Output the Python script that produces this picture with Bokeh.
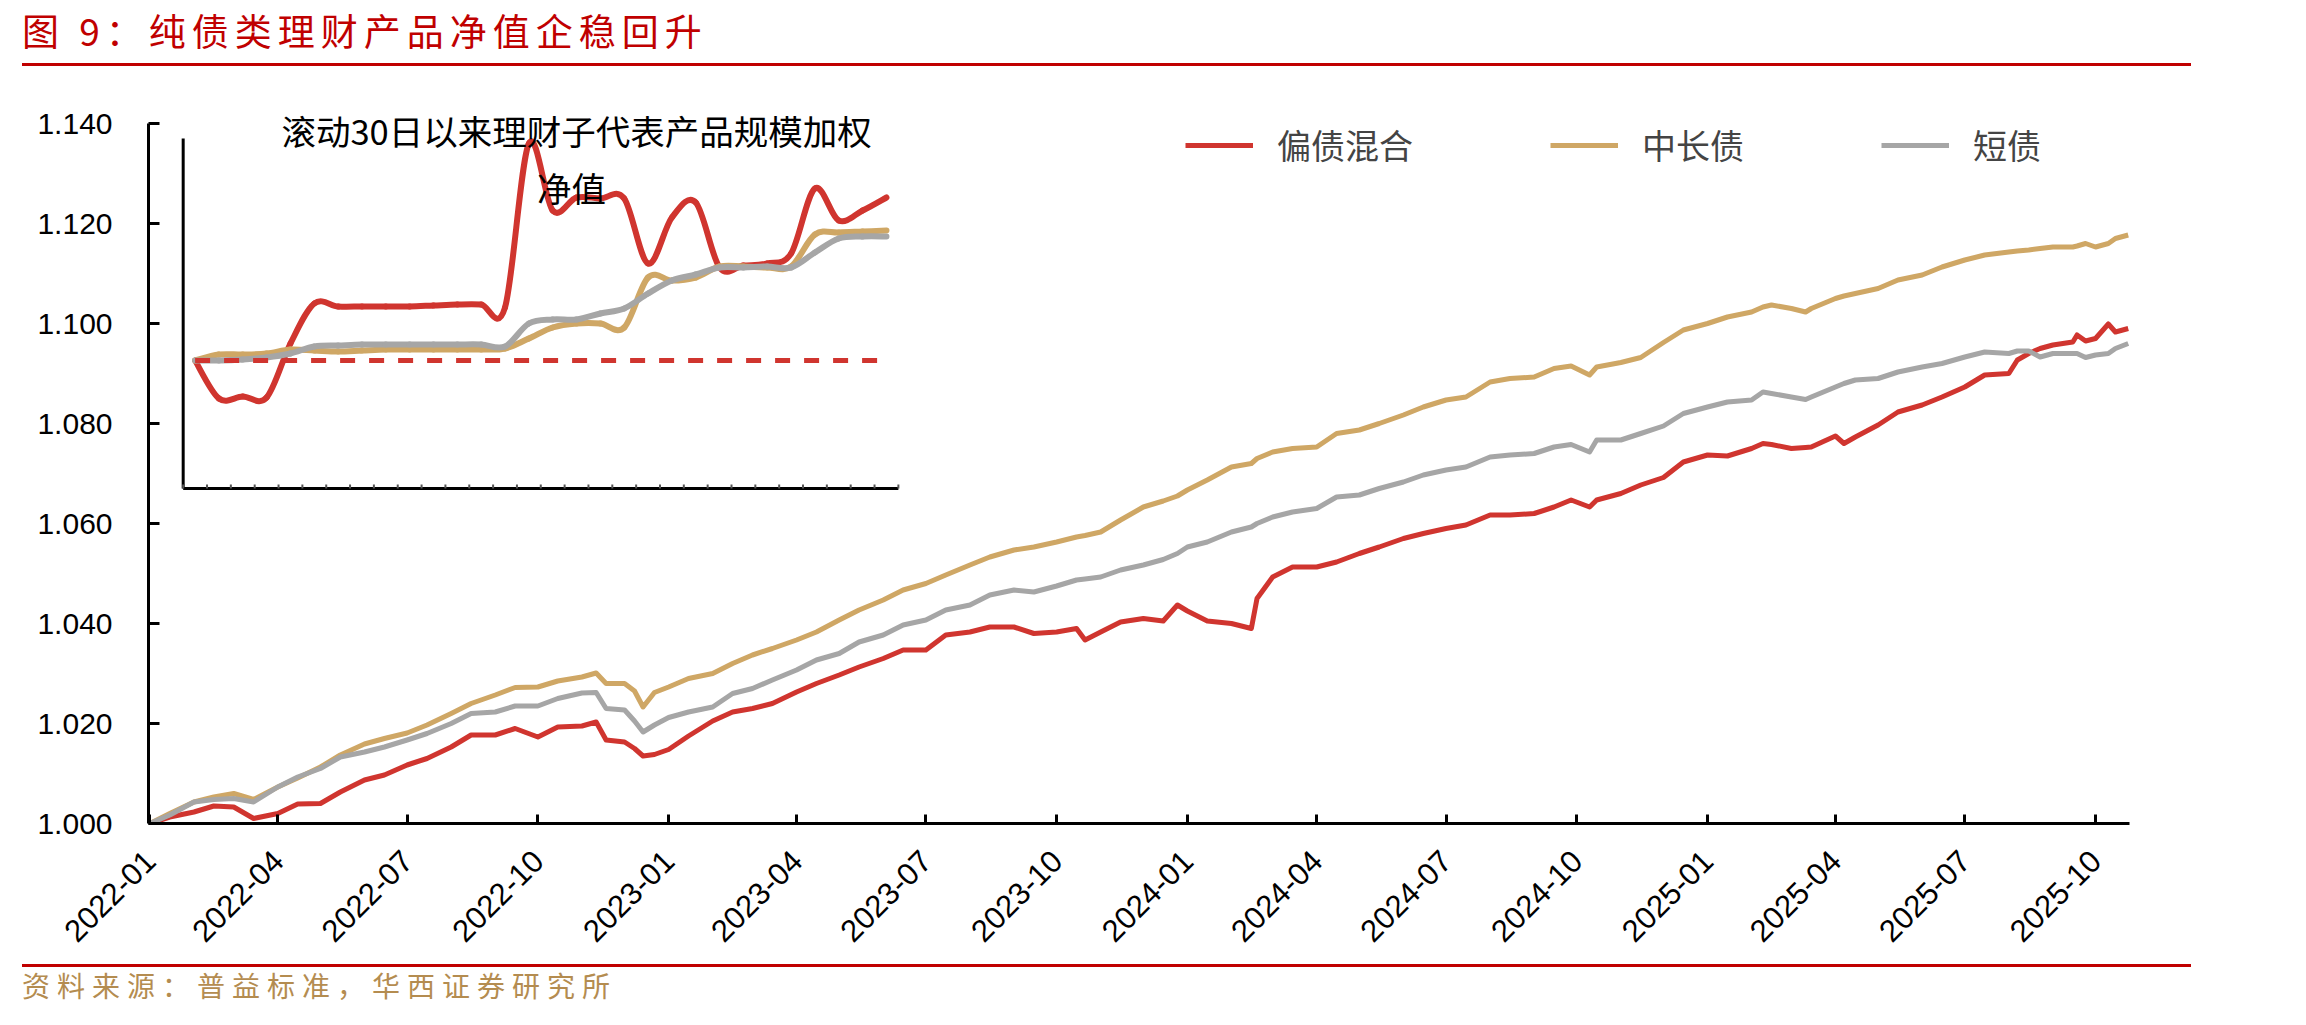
import math
import pandas as pd
from bokeh.plotting import figure
from bokeh.models import (Range1d, FixedTicker, DatetimeTickFormatter, PrintfTickFormatter,
                          Legend, LegendItem, Label, Div, ColumnDataSource)
from bokeh.layouts import column
from bokeh.embed import file_html
from bokeh.resources import INLINE

# ---------------- data ----------------
dates = [
    "2022-01-01", "2022-01-15", "2022-02-01", "2022-02-15", "2022-03-01", "2022-03-15", "2022-04-01",
    "2022-04-15", "2022-05-01", "2022-05-15", "2022-06-01", "2022-06-15", "2022-07-01", "2022-07-15",
    "2022-08-01", "2022-08-15", "2022-09-01", "2022-09-15", "2022-10-01", "2022-10-15", "2022-11-01",
    "2022-11-11", "2022-11-18", "2022-12-01", "2022-12-08", "2022-12-14", "2022-12-22",
    "2023-01-01", "2023-01-15", "2023-02-01", "2023-02-15", "2023-03-01", "2023-03-15", "2023-04-01",
    "2023-04-15", "2023-05-01", "2023-05-15", "2023-06-01", "2023-06-15", "2023-07-01", "2023-07-15",
    "2023-08-01", "2023-08-15", "2023-09-01", "2023-09-15", "2023-10-01", "2023-10-15", "2023-10-21",
    "2023-11-01", "2023-11-15", "2023-12-01", "2023-12-15", "2023-12-25",
    "2024-01-01", "2024-01-15", "2024-02-01", "2024-02-15", "2024-02-19", "2024-03-01", "2024-03-15",
    "2024-04-01", "2024-04-15", "2024-05-01", "2024-05-15", "2024-06-01", "2024-06-15", "2024-07-01",
    "2024-07-15", "2024-08-01", "2024-08-15", "2024-09-01", "2024-09-15", "2024-09-27", "2024-10-10",
    "2024-10-15", "2024-11-01", "2024-11-15", "2024-12-01", "2024-12-15",
    "2025-01-01", "2025-01-15", "2025-02-01", "2025-02-09", "2025-02-15", "2025-03-01", "2025-03-11",
    "2025-03-15", "2025-04-01", "2025-04-07", "2025-04-15", "2025-05-01", "2025-05-15", "2025-06-01",
    "2025-06-15", "2025-07-01", "2025-07-15", "2025-08-01", "2025-08-07", "2025-08-15", "2025-08-23",
    "2025-09-01", "2025-09-15", "2025-09-18", "2025-09-24", "2025-10-01", "2025-10-10", "2025-10-15",
    "2025-10-24",
]

# 偏债混合
nav_mixed = [
    1.0000, 1.0013, 1.0023, 1.0035, 1.0033, 1.0010, 1.0020, 1.0039, 1.0040, 1.0063, 1.0087, 1.0097,
    1.0117, 1.0130, 1.0153, 1.0177, 1.0177, 1.0190, 1.0173, 1.0193, 1.0195, 1.0203, 1.0167, 1.0163,
    1.0150, 1.0135, 1.0138,
    1.0148, 1.0175, 1.0205, 1.0223, 1.0230, 1.0240, 1.0263, 1.0280, 1.0297, 1.0313, 1.0330, 1.0347,
    1.0347, 1.0377, 1.0383, 1.0393, 1.0393, 1.0380, 1.0383, 1.0390, 1.0367, 1.0383, 1.0403, 1.0410,
    1.0405, 1.0437,
    1.0425, 1.0405, 1.0400, 1.0390, 1.0450, 1.0493, 1.0513, 1.0513, 1.0523, 1.0540, 1.0553, 1.0570,
    1.0580, 1.0590, 1.0597, 1.0617, 1.0617, 1.0620, 1.0633, 1.0647, 1.0633, 1.0647, 1.0660, 1.0677,
    1.0692, 1.0723,
    1.0737, 1.0735, 1.0750, 1.0760, 1.0758, 1.0750, 1.0752, 1.0753, 1.0775, 1.0760, 1.0773, 1.0797,
    1.0823, 1.0837, 1.0853, 1.0873, 1.0897, 1.0900, 1.0927, 1.0940, 1.0950, 1.0957, 1.0963, 1.0977,
    1.0965, 1.0970, 1.0999, 1.0983, 1.0990,
]

# 中长债
nav_long = [
    1.0000, 1.0020, 1.0043, 1.0053, 1.0060, 1.0048, 1.0073, 1.0091, 1.0113, 1.0137, 1.0159, 1.0170,
    1.0181, 1.0197, 1.0220, 1.0240, 1.0257, 1.0272, 1.0273, 1.0285, 1.0293, 1.0301, 1.0280, 1.0280,
    1.0265, 1.0233, 1.0262,
    1.0273, 1.0290, 1.0300, 1.0320, 1.0337, 1.0350, 1.0367, 1.0383, 1.0407, 1.0427, 1.0447, 1.0467,
    1.0480, 1.0497, 1.0517, 1.0533, 1.0547, 1.0553, 1.0563, 1.0573, 1.0576, 1.0583, 1.0607, 1.0633,
    1.0645, 1.0655,
    1.0667, 1.0687, 1.0713, 1.0720, 1.0730, 1.0743, 1.0750, 1.0753, 1.0780, 1.0787, 1.0800, 1.0817,
    1.0833, 1.0847, 1.0853, 1.0883, 1.0890, 1.0893, 1.0910, 1.0915, 1.0897, 1.0913, 1.0922, 1.0932,
    1.0962, 1.0987,
    1.1000, 1.1013, 1.1023, 1.1033, 1.1037, 1.1030, 1.1023, 1.1030, 1.1050, 1.1055, 1.1060, 1.1070,
    1.1087, 1.1097, 1.1113, 1.1127, 1.1137, 1.1143, 1.1145, 1.1147, 1.1150, 1.1153, 1.1153, 1.1155,
    1.1160, 1.1153, 1.1160, 1.1170, 1.1177,
]

# 短债
nav_short = [
    1.0000, 1.0017, 1.0043, 1.0048, 1.0050, 1.0043, 1.0073, 1.0093, 1.0110, 1.0133, 1.0143, 1.0153,
    1.0167, 1.0180, 1.0200, 1.0220, 1.0223, 1.0235, 1.0235, 1.0250, 1.0261, 1.0262, 1.0230, 1.0227,
    1.0205, 1.0183, 1.0197,
    1.0212, 1.0223, 1.0233, 1.0260, 1.0270, 1.0287, 1.0307, 1.0327, 1.0340, 1.0363, 1.0377, 1.0397,
    1.0407, 1.0427, 1.0437, 1.0457, 1.0467, 1.0463, 1.0475, 1.0487, 1.0489, 1.0493, 1.0507, 1.0517,
    1.0528, 1.0540,
    1.0553, 1.0563, 1.0583, 1.0593, 1.0600, 1.0613, 1.0623, 1.0630, 1.0653, 1.0657, 1.0670, 1.0683,
    1.0697, 1.0707, 1.0713, 1.0733, 1.0737, 1.0740, 1.0753, 1.0758, 1.0743, 1.0767, 1.0767, 1.0780,
    1.0795, 1.0820,
    1.0833, 1.0843, 1.0847, 1.0863, 1.0860, 1.0853, 1.0848, 1.0853, 1.0873, 1.0880, 1.0887, 1.0890,
    1.0903, 1.0913, 1.0920, 1.0933, 1.0943, 1.0940, 1.0945, 1.0945, 1.0933, 1.0940, 1.0940, 1.0940,
    1.0932, 1.0937, 1.0940, 1.0950, 1.0960,
]

# rolling 30-day window, scale-weighted NAV (start of window = 1)
inset_mixed = [1.00000, 0.99962, 0.99964, 0.99963, 1.00017, 1.00057, 1.00054, 1.00054, 1.00054, 1.00054,
               1.00055, 1.00056, 1.00056, 1.00053, 1.00217, 1.00150, 1.00163, 1.00162, 1.00162, 1.00097,
               1.00143, 1.00158, 1.00093, 1.00095, 1.00097, 1.00107, 1.00172, 1.00140, 1.00150, 1.00163]
inset_long = [1.00000, 1.00006, 1.00006, 1.00007, 1.00011, 1.00010, 1.00009, 1.00010, 1.00011, 1.00011,
              1.00011, 1.00011, 1.00011, 1.00012, 1.00022, 1.00033, 1.00037, 1.00037, 1.00033, 1.00083,
              1.00080, 1.00083, 1.00094, 1.00094, 1.00093, 1.00094, 1.00126, 1.00128, 1.00129, 1.00130]
inset_short = [1.00000, 1.00000, 1.00001, 1.00003, 1.00007, 1.00014, 1.00015, 1.00016, 1.00016, 1.00016,
               1.00016, 1.00016, 1.00016, 1.00014, 1.00037, 1.00041, 1.00041, 1.00047, 1.00052, 1.00067,
               1.00080, 1.00086, 1.00093, 1.00093, 1.00094, 1.00093, 1.00108, 1.00122, 1.00124, 1.00124]
inset_base = 1.0

series_names = ["偏债混合", "中长债", "短债"]
x_ticks = ["2022-01-01", "2022-04-01", "2022-07-01", "2022-10-01", "2023-01-01", "2023-04-01",
           "2023-07-01", "2023-10-01", "2024-01-01", "2024-04-01", "2024-07-01", "2024-10-01",
           "2025-01-01", "2025-04-01", "2025-07-01", "2025-10-01"]
y_ticks = [1.00, 1.02, 1.04, 1.06, 1.08, 1.10, 1.12, 1.14]

# ---------------- styling ----------------
RED = "#D0352F"
GOLD = "#CFA765"
GREY = "#A6A6A6"
TXT_FONT = "Liberation Sans"
CJK_FONT = "Noto Sans CJK SC"

W = 2306
HEAD_H = 67          # header block (title + rule)
FOOT_TOP = 964       # page y where the footer block starts
FIG_H = FOOT_TOP - HEAD_H
FOOT_H = 1025 - FOOT_TOP
FRAME_BOTTOM = 823 - HEAD_H     # x axis (value 1.000) inside the figure
PX_PER_UNIT = 5000.0            # 0.02 of NAV = 100 px

dt = pd.to_datetime(dates)
t0 = pd.Timestamp("2022-01-01")
x_range = Range1d(start=t0 - pd.Timedelta(days=0.985), end=t0 + pd.Timedelta(days=1392.9))
# plot area reaches up to the top of the figure; the value axis itself stops at 1.140
y_range = Range1d(start=1.0, end=1.0 + FRAME_BOTTOM / PX_PER_UNIT)

p = figure(width=W, height=FIG_H, x_axis_type="datetime", x_range=x_range, y_range=y_range,
           output_backend="svg", toolbar_location=None,
           min_border_left=148, min_border_right=177, min_border_top=0,
           min_border_bottom=FIG_H - FRAME_BOTTOM)
p.outline_line_color = None
p.grid.visible = False
p.background_fill_color = "white"
p.border_fill_color = "white"

# ---- axes ----
for ax in (p.xaxis[0], p.yaxis[0]):
    ax.axis_line_color = "black"
    ax.axis_line_width = 3
    ax.major_tick_line_color = "black"
    ax.major_tick_line_width = 3
    ax.major_tick_out = 0
    ax.minor_tick_line_color = None
    ax.major_label_text_font = TXT_FONT
    ax.major_label_text_color = "black"

p.yaxis.bounds = (1.0, 1.14)
p.yaxis.major_tick_in = 11
p.yaxis.major_label_standoff = 36
p.yaxis.major_label_text_font_size = "30px"
p.yaxis.ticker = FixedTicker(ticks=y_ticks)
p.yaxis.formatter = PrintfTickFormatter(format="%.3f")

tick_ms = [pd.Timestamp(t).value // 10**6 for t in x_ticks]
p.xaxis.ticker = FixedTicker(ticks=tick_ms)
p.xaxis.formatter = DatetimeTickFormatter(days="%Y-%m", months="%Y-%m", years="%Y-%m")
p.xaxis.major_tick_in = 9
p.xaxis.major_label_orientation = math.pi / 4
p.xaxis.major_label_standoff = 32
p.xaxis.major_label_text_font_size = "31px"

# ---- main series ----
r_mixed = p.line(dt, nav_mixed, line_color=RED, line_width=5, line_join="round")
r_long = p.line(dt, nav_long, line_color=GOLD, line_width=5, line_join="round")
r_short = p.line(dt, nav_short, line_color=GREY, line_width=5, line_join="round")

legend = Legend(items=[LegendItem(label=series_names[0], renderers=[r_mixed]),
                       LegendItem(label=series_names[1], renderers=[r_long]),
                       LegendItem(label=series_names[2], renderers=[r_short])],
                orientation="horizontal", location=(1037, 654),
                glyph_width=68, glyph_height=34, label_standoff=24, spacing=137,
                padding=0, margin=0, border_line_color=None, background_fill_alpha=0,
                label_text_font=CJK_FONT, label_text_font_size="34px", label_height=34)
p.add_layout(legend)

# ---- inset: rolling 30-day chart drawn on its own ranges ----
# inset category k sits at page x = 194.6 + 23.84 k ; value u sits at page y = 360 - (u - 1) * 1e5
p.extra_x_ranges = {"ix": Range1d(start=(148 - 194.6) / 23.84, end=(2129 - 194.6) / 23.84)}
p.extra_y_ranges = {"iy": Range1d(start=1 + (360 - 823) * 1e-5, end=1 + (360 - HEAD_H) * 1e-5)}
iy_bottom = 1 + (360 - 488) * 1e-5
iy_top = 1 + (360 - 138) * 1e-5
n_cat = len(inset_mixed)

p.segment(x0=[-0.5, -0.5], y0=[iy_bottom, iy_bottom], x1=[-0.5, n_cat - 0.5], y1=[iy_top, iy_bottom],
          line_color="black", line_width=3, x_range_name="ix", y_range_name="iy")
tick_x = [j - 0.5 for j in range(n_cat + 1)]
p.segment(x0=tick_x, y0=[iy_bottom] * len(tick_x), x1=tick_x, y1=[iy_bottom + 4e-5] * len(tick_x),
          line_color="#555555", line_width=2, x_range_name="ix", y_range_name="iy")


def smooth_segments(values):
    """Cubic Bezier pieces through the points (Catmull-Rom control points)."""
    n = len(values)
    xs = list(range(n))
    d = dict(x0=[], y0=[], x1=[], y1=[], cx0=[], cy0=[], cx1=[], cy1=[])
    for i in range(n - 1):
        a, b, c, e = max(i - 1, 0), i, i + 1, min(i + 2, n - 1)
        d["x0"].append(xs[b]); d["y0"].append(values[b])
        d["x1"].append(xs[c]); d["y1"].append(values[c])
        d["cx0"].append(xs[b] + (xs[c] - xs[a]) / 6); d["cy0"].append(values[b] + (values[c] - values[a]) / 6)
        d["cx1"].append(xs[c] - (xs[e] - xs[b]) / 6); d["cy1"].append(values[c] - (values[e] - values[b]) / 6)
    return ColumnDataSource(d)


for vals, col in ((inset_mixed, RED), (inset_long, GOLD), (inset_short, GREY)):
    p.bezier(x0="x0", y0="y0", x1="x1", y1="y1", cx0="cx0", cy0="cy0", cx1="cx1", cy1="cy1",
             source=smooth_segments(vals), line_color=col, line_width=6, line_cap="round",
             x_range_name="ix", y_range_name="iy")

p.line(list(range(n_cat)), [inset_base] * n_cat, line_color=RED, line_width=5, line_dash="15 14",
       x_range_name="ix", y_range_name="iy")

for txt, kx, uy in (("滚动30日以来理财子代表产品规模加权", 16.0, 1.00231), ("净值", 15.79, 1.00174)):
    p.add_layout(Label(x=kx, y=uy, x_range_name="ix", y_range_name="iy", text=txt,
                       text_align="center", text_baseline="middle", text_font=CJK_FONT,
                       text_font_size="34.5px", text_color="black"))

# ---------------- header / footer ----------------
header = Div(width=W, height=HEAD_H, margin=(0, 0, 0, 0), text=(
    '<div style="position:relative;width:2306px;height:67px;">'
    '<div style="position:absolute;left:22px;top:8px;white-space:nowrap;font-family:\'Noto Sans CJK SC\';'
    'font-size:37px;line-height:44px;letter-spacing:6px;color:#C00000;">图 9：纯债类理财产品净值企稳回升</div>'
    '<div style="position:absolute;left:22px;top:63px;width:2169px;height:3px;background:#C00000;"></div>'
    '</div>'))
footer = Div(width=W, height=FOOT_H, margin=(0, 0, 0, 0), text=(
    '<div style="position:relative;width:2306px;height:61px;">'
    '<div style="position:absolute;left:22px;top:0px;width:2169px;height:3px;background:#C00000;"></div>'
    '<div style="position:absolute;left:22px;top:4px;white-space:nowrap;font-family:\'Noto Sans CJK SC\';'
    'font-size:28px;line-height:34px;letter-spacing:7px;color:#B48C50;">资料来源：普益标准，华西证券研究所</div>'
    '</div>'))

layout = column(header, p, footer, spacing=0)
open("out.html", "w").write(file_html(layout, INLINE))
